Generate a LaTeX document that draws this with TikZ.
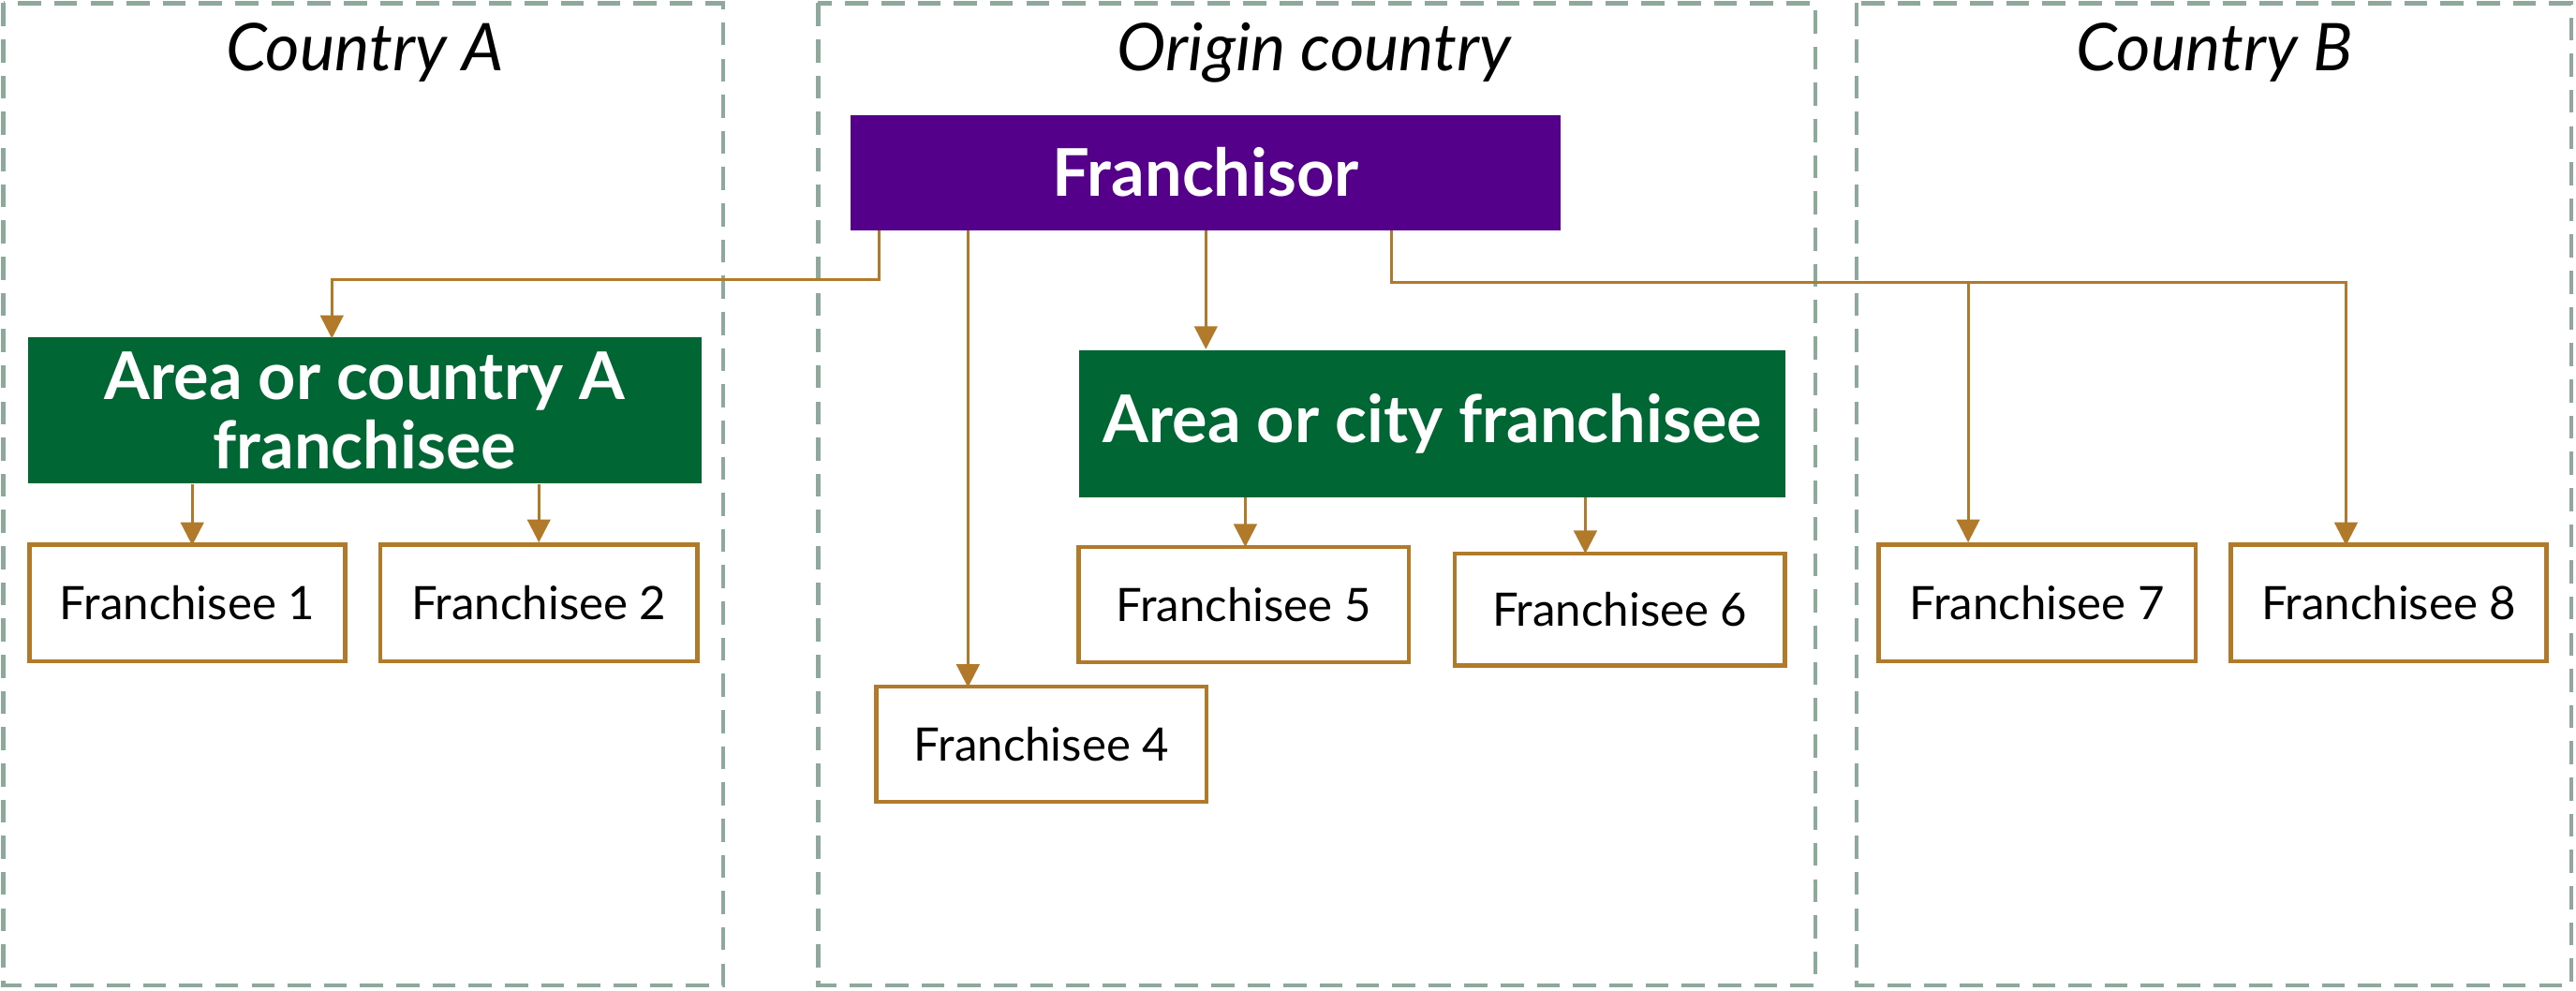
\documentclass[tikz,border=0pt]{standalone}
\usepackage{fontspec}
\setmainfont{Lato}
\usetikzlibrary{arrows.meta}
\definecolor{frame}{HTML}{8FA89C}
\definecolor{purp}{HTML}{55008A}
\definecolor{grn}{HTML}{006633}
\definecolor{brn}{HTML}{B07A2A}
\tikzset{
	region/.style={draw=frame, dashed, line width=1.2pt, dash pattern=on 7pt off 4pt},
	title/.style={font=\fontsize{20}{24}\selectfont\itshape},
	head/.style={fill=purp, text=white, font=\fontsize{20}{24}\selectfont\bfseries},
	area/.style={fill=grn, text=white, font=\fontsize{20}{24}\selectfont\bfseries, align=center},
	fee/.style={draw=brn, line width=1.3pt, fill=white, font=\fontsize{14}{17}\selectfont},
	link/.style={draw=brn, line width=0.8pt, -{Triangle[length=7pt,width=7pt]}},
	line/.style={draw=brn, line width=0.8pt}
}
\begin{document}
\begin{tikzpicture}[x=0.01754cm, y=-0.01754cm]
	\useasboundingbox (0,0) rectangle (1568,603);

	\draw[region] (2,2) rectangle (440,600);
	\draw[region] (498,2) rectangle (1105,600);
	\draw[region] (1130,2) rectangle (1565,600);

	\node[title] (tA) at (222,32) {Country A};
	\node[title] (tO) at (800,32) {Origin country};
	\node[title] (tB) at (1348,32) {Country B};

	\node[head, minimum width=432*0.01754cm, minimum height=70*0.01754cm] (F) at (734,105) {Franchisor};
	\node[area, minimum width=410*0.01754cm, minimum height=89*0.01754cm] (aA) at (222,250) {Area or country A\\[-3pt]franchisee};
	\node[area, minimum width=430*0.01754cm, minimum height=90*0.01754cm] (aC) at (872,258) {Area or city franchisee};

	\node[fee, minimum width=192*0.01754cm, minimum height=71*0.01754cm] (f1) at (114,367) {Franchisee 1};
	\node[fee, minimum width=193*0.01754cm, minimum height=71*0.01754cm] (f2) at (328,367) {Franchisee 2};
	\node[fee, minimum width=201*0.01754cm, minimum height=70*0.01754cm] (f4) at (634,453) {Franchisee 4};
	\node[fee, minimum width=201*0.01754cm, minimum height=70*0.01754cm] (f5) at (757,368) {Franchisee 5};
	\node[fee, minimum width=201*0.01754cm, minimum height=68*0.01754cm] (f6) at (986,371) {Franchisee 6};
	\node[fee, minimum width=193*0.01754cm, minimum height=71*0.01754cm] (f7) at (1240,367) {Franchisee 7};
	\node[fee, minimum width=192*0.01754cm, minimum height=71*0.01754cm] (f8) at (1454,367) {Franchisee 8};

	\coordinate (jA) at (535,170);
	\coordinate (jB) at (847,172);
	\coordinate (j7) at (1198,172);

	\draw[link] (F.south -| jA) -- (jA) -| (202,206);
	\draw[link] (F.south -| f4.north west) ++(57,0) -- ++(0,278);
	\draw[link] (F.south) -- (F.south |- aC.north);
	\draw[line] (F.south -| jB) -- (jB) -- (j7);
	\draw[link] (j7) -- (j7 |- f7.north);
	\draw[link] (j7) -| (1428,332);

	\draw[link] (117,295) -- (117,332);
	\draw[link] (aA.south -| f2) -- (f2.north);
	\draw[link] (758,303) -- (758,333);
	\draw[link] (965,303) -- (965,337);
\end{tikzpicture}
\end{document}
